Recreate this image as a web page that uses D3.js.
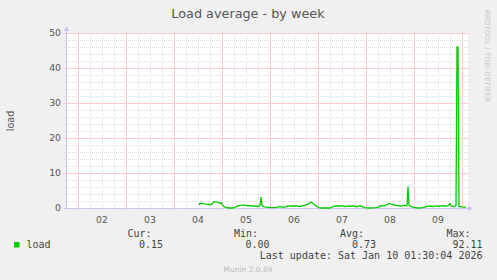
<!DOCTYPE html>
<html>
<head>
<meta charset="utf-8">
<script src="https://cdn.jsdelivr.net/npm/d3@7"></script>
<style>
  html, body { margin: 0; padding: 0; background: #f0f0f0; }
  svg { display: block; }
</style>
</head>
<body>
<div id="chart"></div>
<script>
// load samples: hours after Jan 4 00:00 and load value
var loadHours = [12.5, 13, 15, 17, 18, 19, 20, 21.5, 22.5, 23, 23.5, 24, 25, 26, 27.5, 29.5,
  31, 32.5, 34, 35.5, 37, 38.5, 40, 41, 42, 43, 43.5, 44, 45, 47, 49, 51, 53, 55, 56.5, 58,
  59.5, 61, 62.5, 64, 65.5, 67, 68.5, 69.5, 70.5, 71.5, 72.5, 74, 78, 79.5, 81, 82.5, 84,
  85.5, 87, 88.5, 90, 91.5, 93, 94, 95.5, 98, 101, 102.5, 103.5, 105, 106.5, 107.5, 109,
  110.5, 112, 113.5, 115, 116, 116.5, 117, 117.5, 118.5, 120, 122, 124.5, 126, 128, 129.5,
  131, 132.5, 134, 135.5, 137, 138, 138.5, 139.5, 140.5, 141, 141.5, 142, 142.5, 144, 146];
var loadValues = [0.9, 1.4, 1.2, 1.1, 0.9, 1.2, 1.8, 1.7, 1.5, 1.3, 1.6, 1.1, 0.4, 0.2, 0.0, 0.0,
  0.3, 0.7, 0.8, 0.8, 0.6, 0.7, 0.5, 0.6, 0.4, 0.7, 3.0, 0.8, 0.3, 0.2, 0.1, 0.2, 0.4, 0.2, 0.5, 0.6,
  0.5, 0.7, 0.4, 0.6, 0.8, 1.1, 1.7, 1.3, 0.8, 0.4, 0.1, 0.0, 0.0, 0.4, 0.6, 0.5, 0.7,
  0.4, 0.6, 0.5, 0.6, 0.3, 0.7, 0.4, 0.1, 0.0, 0.1, 0.3, 0.7, 0.6, 1.0, 1.3, 1.0,
  0.8, 0.7, 0.5, 0.8, 0.6, 0.7, 6.0, 0.8, 0.4, 0.2, 0.0, 0.1, 0.4, 0.6, 0.4,
  0.6, 0.5, 0.7, 0.5, 0.6, 1.3, 0.6, 0.4, 0.5, 0.8, 46, 46, 0.5, 0.3, 0.2];

var yMajorTicks = [0, 10, 20, 30, 40, 50];
var dayLabels = ['02', '03', '04', '05', '06', '07', '08', '09'];
var legendHeads = ['Cur:', 'Min:', 'Avg:', 'Max:'];
var legendValues = ['0.15', '0.00', '0.73', '92.11'];
var lastUpdate = 'Last update: Sat Jan 10 01:30:04 2026';

var W = 497, H = 280;
var base = new Date(2026, 0, 4, 0, 0);
var x = d3.scaleTime()
  .domain([new Date(2026, 0, 1, 18, 0), new Date(2026, 0, 10, 2, 0)])
  .range([66, 466]);
var y = d3.scaleLinear().domain([0, 50]).range([208, 33]);

var svg = d3.select('#chart').append('svg').attr('width', W).attr('height', H);
svg.append('rect').attr('width', W).attr('height', H).attr('fill', '#f0f0f0');
svg.append('rect').attr('x', 66).attr('y', 33).attr('width', 402).attr('height', 175).attr('fill', '#fff');

function px(v) { return Math.round(v) + 0.5; }

// minor grid (skip positions covered by major lines)
var minorX = d3.timeHour.every(6).range(x.domain()[0], x.domain()[1])
  .filter(function (d) { return d.getHours() !== 0; });
svg.append('g').selectAll('line').data(minorX).join('line')
  .attr('x1', function (d) { return px(x(d)); }).attr('x2', function (d) { return px(x(d)); })
  .attr('y1', 31).attr('y2', 210)
  .attr('stroke', '#dcdcdc').attr('stroke-dasharray', '1,1');
var minorY = d3.range(0, 51, 2).filter(function (d) { return d % 10 !== 0; });
svg.append('g').selectAll('line').data(minorY).join('line')
  .attr('x1', 64).attr('x2', 469)
  .attr('y1', function (d) { return px(y(d)); }).attr('y2', function (d) { return px(y(d)); })
  .attr('stroke', '#dcdcdc').attr('stroke-dasharray', '1,1');

// major grid
var gridRed = '#fdcccc';
var majorX = d3.timeDay.range(new Date(2026, 0, 2), new Date(2026, 0, 10, 1));
svg.append('g').selectAll('line').data(majorX).join('line')
  .attr('x1', function (d) { return px(x(d)); }).attr('x2', function (d) { return px(x(d)); })
  .attr('y1', 31).attr('y2', 211)
  .attr('stroke', gridRed);
svg.append('g').selectAll('line').data(yMajorTicks).join('line')
  .attr('x1', 63).attr('x2', 469)
  .attr('y1', function (d) { return px(y(d)); }).attr('y2', function (d) { return px(y(d)); })
  .attr('stroke', gridRed);

// axes
var axisColor = '#c8c8f0';
svg.append('line').attr('x1', 66.5).attr('x2', 66.5).attr('y1', 30).attr('y2', 208.5)
  .attr('stroke', axisColor);
svg.append('line').attr('x1', 64).attr('x2', 469).attr('y1', 208.5).attr('y2', 208.5)
  .attr('stroke', axisColor);
svg.append('path').attr('d', 'M63.5,31 L66.5,26 L69.5,31 Z').attr('fill', axisColor);
svg.append('path').attr('d', 'M468,205.5 L473,208.5 L468,211.5 Z').attr('fill', axisColor);

// tick labels
svg.append('g').selectAll('text').data(yMajorTicks).join('text')
  .attr('x', 61).attr('y', function (d) { return y(d) + 3.4; })
  .attr('text-anchor', 'end')
  .attr('font-family', 'DejaVu Sans').attr('font-size', 9.3).attr('fill', '#555')
  .text(function (d) { return d; });
svg.append('g').selectAll('text').data(dayLabels).join('text')
  .attr('x', function (d) { return x(new Date(2026, 0, +d, 12)); }).attr('y', 222.5)
  .attr('text-anchor', 'middle')
  .attr('font-family', 'DejaVu Sans').attr('font-size', 9.3).attr('fill', '#555')
  .text(function (d) { return d; });

// data line
var pts = loadHours.map(function (h, i) {
  return { t: new Date(base.getTime() + h * 3600000), v: loadValues[i] };
});
svg.append('path').datum(pts)
  .attr('d', d3.line().x(function (d) { return x(d.t); }).y(function (d) { return y(d.v); }))
  .attr('fill', 'none').attr('stroke', '#00cc00').attr('stroke-width', 1.3)
  .attr('stroke-linejoin', 'round');

// titles
svg.append('text').attr('x', 248).attr('y', 17.5).attr('text-anchor', 'middle')
  .attr('font-family', 'DejaVu Sans').attr('font-size', 12.8).attr('fill', '#555')
  .text('Load average - by week');
svg.append('text').attr('transform', 'translate(14,121) rotate(-90)').attr('text-anchor', 'middle')
  .attr('font-family', 'DejaVu Sans').attr('font-size', 9.6).attr('fill', '#555')
  .text('load');
svg.append('text').attr('transform', 'translate(485,56) rotate(90)').attr('text-anchor', 'middle')
  .attr('font-family', 'DejaVu Sans').attr('font-size', 7.2).attr('fill', '#c8c8c8')
  .text('RRDTOOL / TOBI OETIKER');

// legend
var mono = 'DejaVu Sans Mono';
svg.append('rect').attr('x', 14).attr('y', 242).attr('width', 5.5).attr('height', 5.5).attr('fill', '#00cc00');
svg.append('text').attr('x', 26.5).attr('y', 247.5)
  .attr('font-family', mono).attr('font-size', 10).attr('fill', '#444').text('load');
var headX = [127.5, 234, 340, 446.5];
var valRight = [163, 269.5, 376, 482.5];
svg.append('g').selectAll('text').data(legendHeads).join('text')
  .attr('x', function (d, i) { return headX[i]; }).attr('y', 236.5)
  .attr('font-family', mono).attr('font-size', 10).attr('fill', '#444')
  .text(function (d) { return d; });
svg.append('g').selectAll('text').data(legendValues).join('text')
  .attr('x', function (d, i) { return valRight[i]; }).attr('y', 247.5)
  .attr('text-anchor', 'end')
  .attr('font-family', mono).attr('font-size', 10).attr('fill', '#444')
  .text(function (d) { return d; });
svg.append('text').attr('x', 482.5).attr('y', 259).attr('text-anchor', 'end')
  .attr('font-family', mono).attr('font-size', 10).attr('fill', '#444').text(lastUpdate);
svg.append('text').attr('x', 248).attr('y', 272).attr('text-anchor', 'middle')
  .attr('font-family', 'DejaVu Sans').attr('font-size', 7.5).attr('fill', '#bbb')
  .text('Munin 2.0.69');
</script>
</body>
</html>
